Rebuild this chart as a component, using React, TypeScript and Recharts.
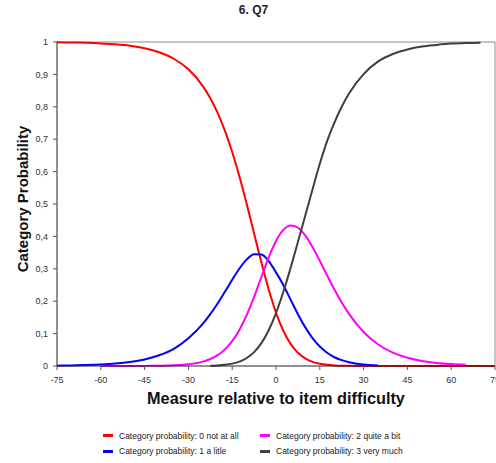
import React from 'react';
import { LineChart, Line, XAxis, YAxis, ReferenceLine, Label, Customized } from 'recharts';

const FONT = '"Liberation Sans", Arial, sans-serif';

const chartTitle = '6. Q7';
const xTitle = 'Measure relative to item difficulty';
const yTitle = 'Category Probability';

const xTicks = [-75, -60, -45, -30, -15, 0, 15, 30, 45, 60, 75];
const yTicks = [0, 0.1, 0.2, 0.3, 0.4, 0.5, 0.6, 0.7, 0.8, 0.9, 1];

const xs = [
  -75, -70, -65, -60, -55, -50, -45, -40, -35, -30, -25,
  -22.5, -20, -17.5, -15, -12.5, -10, -7.5, -5, -2.5, 0, 2.5, 5, 7.5, 10, 12.5, 15, 17.5, 20, 22.5,
  25, 30, 35, 40, 45, 50, 55, 60, 65, 70, 75,
];

// Category probability: 0 not at all
const p0 = [
  0.999, 0.9984, 0.9974, 0.9957, 0.9929, 0.9884, 0.9808, 0.9685, 0.9483, 0.9156, 0.8631,
  0.8266, 0.7813, 0.7262, 0.6604, 0.5841, 0.4991, 0.409, 0.3192, 0.236, 0.1649, 0.1089, 0.0682, 0.0407, 0.0233, 0.0129, 0.0069, 0.0036, 0.0018, 0.0009,
  0.0005, 0.0001, 0, 0, 0, 0, 0, 0, 0, 0, 0,
];
// Category probability: 1 a litle
const p1 = [
  0.001, 0.0017, 0.0028, 0.0046, 0.0075, 0.0123, 0.0202, 0.033, 0.053, 0.086, 0.131,
  0.16, 0.193, 0.229, 0.266, 0.301, 0.329, 0.345, 0.344, 0.324, 0.289, 0.25, 0.205, 0.16, 0.12, 0.086, 0.06, 0.041, 0.027, 0.018,
  0.0115, 0.0046, 0.0018, null, null, null, null, null, null, null, null,
];
// Category probability: 2 quite a bit
const p2 = [
  null, null, null, 0, 0, 0.0001, 0.0003, 0.0008, 0.002, 0.0053, 0.0136,
  0.0215, 0.0335, 0.0513, 0.0769, 0.1122, 0.158, 0.2135, 0.2747, 0.335, 0.3859, 0.4202, 0.434, 0.4271, 0.4031, 0.3671, 0.3244, 0.2796, 0.2361, 0.1962,
  0.1608, 0.1049, 0.0665, 0.0415, 0.0256, 0.0157, 0.0096, 0.0058, 0.0035, null, null,
];
// Category probability: 3 very much
const p3 = [
  null, null, null, null, null, null, null, null, null, null, null,
  0.001, 0.0019, 0.0038, 0.0073, 0.0136, 0.0246, 0.0427, 0.0705, 0.1104, 0.1633, 0.2283, 0.3028, 0.3826, 0.4637, 0.545, 0.624, 0.694, 0.751, 0.8,
  0.841, 0.901, 0.94, 0.963, 0.977, 0.986, 0.991, 0.995, 0.997, 0.998, null,
];

const seriesNames = [
  'Category probability: 0 not at all',
  'Category probability: 1 a litle',
  'Category probability: 2 quite a bit',
  'Category probability: 3 very much',
];
const seriesKeys = ['p0', 'p1', 'p2', 'p3'];
const seriesColors = ['#ff0000', '#0000ff', '#ff00ff', '#404040'];

const rows = xs.map((x, i) => ({ x, p0: p0[i], p1: p1[i], p2: p2[i], p3: p3[i] }));

const fmtY = (v: number) => String(v).replace('.', ',');

const legendCols = [
  [0, 1],
  [2, 3],
];

function LegendBox() {
  return (
    <div style={{ position: 'absolute', left: 0, top: 428, width: 496, height: 32 }}>
      {legendCols.map((col, ci) => (
        <div key={ci} style={{ position: 'absolute', left: ci === 0 ? 103 : 260, top: 0 }}>
          {col.map((si, ri) => (
            <div key={si} style={{ position: 'absolute', left: 0, top: ri * 15.5, height: 15, whiteSpace: 'nowrap', display: 'flex', alignItems: 'center' }}>
              <div style={{ width: 10, height: 3, background: seriesColors[si], marginRight: 6 }} />
              <span style={{ fontFamily: FONT, fontSize: 8.5, color: '#222' }}>{seriesNames[si]}</span>
            </div>
          ))}
        </div>
      ))}
    </div>
  );
}

export default function App() {
  return (
    <div style={{ position: 'absolute', left: 0, top: 0, width: 496, height: 463, background: '#fff', overflow: 'hidden' }}>
      <LineChart width={496} height={463} data={rows} margin={{ top: 42, right: 1, left: 0, bottom: 57 }}>
        <ReferenceLine y={1} stroke="#8a8a8a" strokeWidth={1} />
        <ReferenceLine x={75} stroke="#8a8a8a" strokeWidth={1} />
        <XAxis
          type="number"
          dataKey="x"
          domain={[-75, 75]}
          ticks={xTicks}
          interval={0}
          height={40}
          tickSize={4}
          tickMargin={7}
          axisLine={{ stroke: '#222' }}
          tickLine={{ stroke: '#555' }}
          tick={{ fontSize: 9, fill: '#333', fontFamily: FONT }}
        >
          <Label
            content={() => (
              <text x={276} y={404} textAnchor="middle" fontFamily={FONT} fontSize={16.3} fontWeight="bold" fill="#111">
                {xTitle}
              </text>
            )}
          />
        </XAxis>
        <YAxis
          type="number"
          domain={[0, 1]}
          ticks={yTicks}
          interval={0}
          width={57}
          tickSize={4}
          tickMargin={5}
          tickFormatter={fmtY}
          axisLine={{ stroke: '#222' }}
          tickLine={{ stroke: '#555' }}
          tick={{ fontSize: 9, fill: '#333', fontFamily: FONT }}
        >
          <Label
            content={() => (
              <text x={27.5} y={199} transform="rotate(-90, 27.5, 199)" textAnchor="middle" fontFamily={FONT} fontSize={15} fontWeight="bold" fill="#111">
                {yTitle}
              </text>
            )}
          />
        </YAxis>
        {seriesKeys.map((k, i) => (
          <Line
            key={k}
            type="monotone"
            dataKey={k}
            name={seriesNames[i]}
            stroke={seriesColors[i]}
            strokeWidth={2}
            dot={false}
            activeDot={false}
            isAnimationActive={false}
            connectNulls={false}
          />
        ))}
        <Customized
          component={() => (
            <text x={253.5} y={14} textAnchor="middle" fontFamily={FONT} fontSize={12} fontWeight="bold" fill="#222">
              {chartTitle}
            </text>
          )}
        />
      </LineChart>
      <LegendBox />
    </div>
  );
}
